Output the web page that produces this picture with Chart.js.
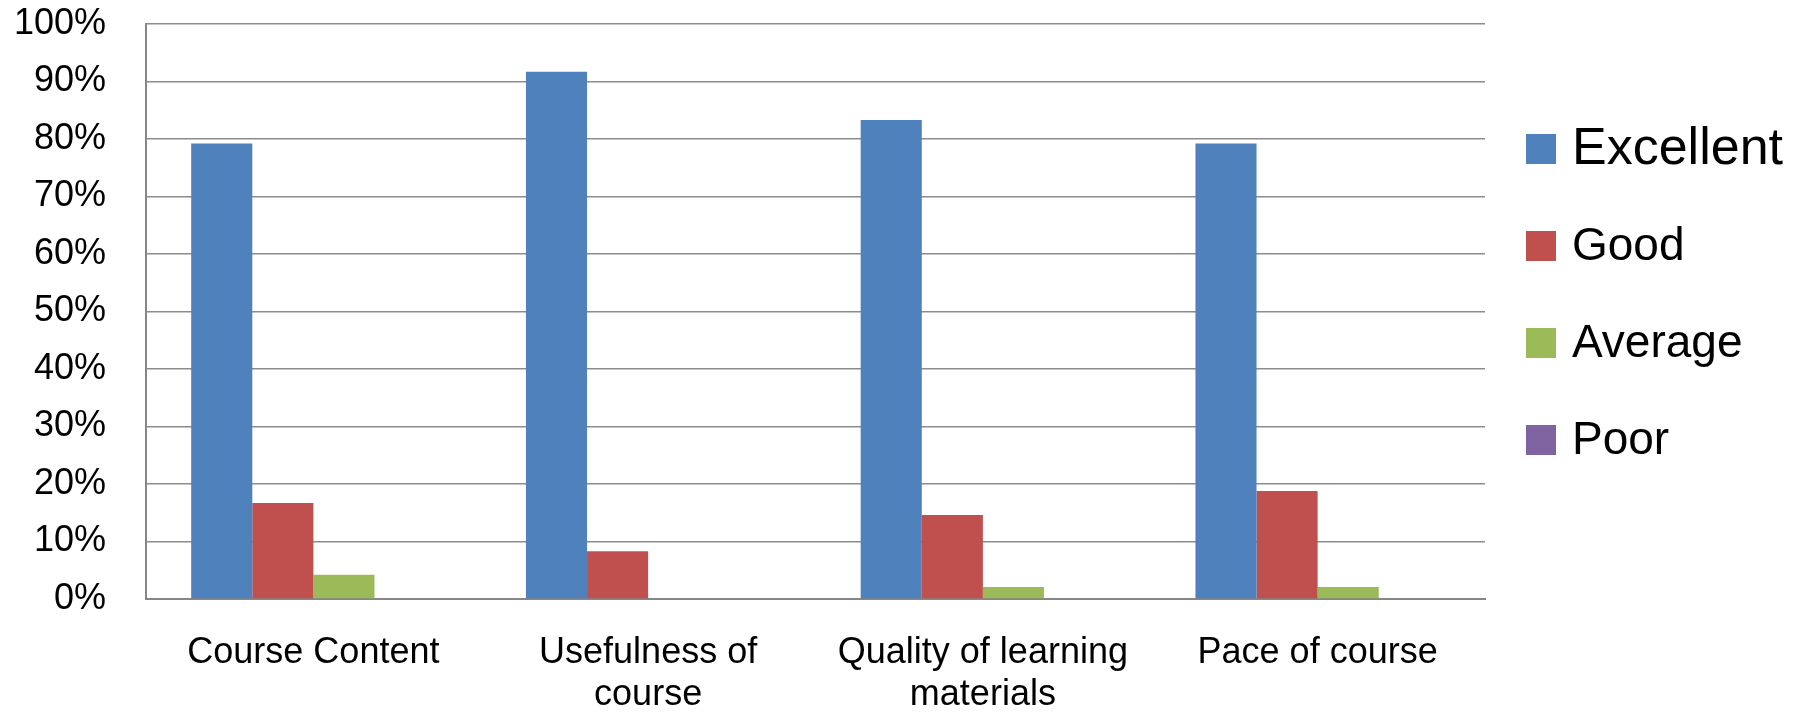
<!DOCTYPE html>
<html>
<head>
<meta charset="utf-8">
<script src="https://cdn.jsdelivr.net/npm/chart.js@4.4.0/dist/chart.umd.min.js"></script>
<style>
  body { margin: 0; background: #fff; }
  #wrap { width: 1805px; height: 713px; }
</style>
</head>
<body>
<div id="wrap"><canvas id="barChart" width="1805" height="713"></canvas></div>
<script>
// categories and series (percent of respondents)
var categories = ['Course Content', ['Usefulness of', 'course'], ['Quality of learning', 'materials'], 'Pace of course'];
var seriesNames = ['Excellent', 'Good', 'Average', 'Poor'];
var excellent = [79.2, 91.7, 83.3, 79.2];
var good = [16.7, 8.3, 14.6, 18.8];
var average = [4.2, 0, 2.1, 2.1];
var poor = [0, 0, 0, 0];
var yTicks = [0, 10, 20, 30, 40, 50, 60, 70, 80, 90, 100];

var colors = ['#4F81BD', '#C0504D', '#9BBB59', '#8064A2'];

// simple legend on the right, drawn on canvas
var sideLegend = {
    id: 'sideLegend',
    afterDraw: function(chart) {
        var ctx = chart.ctx;
        ctx.save();
        ctx.textBaseline = 'middle';
        ctx.textAlign = 'left';
        chart.data.datasets.forEach(function(ds, i) {
            var cy = 149 + i * 97;
            ctx.fillStyle = ds.backgroundColor;
            ctx.fillRect(1526, cy - 15, 30, 30);
            ctx.fillStyle = '#000';
            ctx.font = (i == 0 ? '52px' : '46px') + ' "Liberation Sans", Arial, sans-serif';
            ctx.fillText(ds.label, 1572, cy + 1);
        });
        ctx.restore();
    }
};

var allSeries = [excellent, good, average, poor];

var ctx = document.getElementById('barChart').getContext('2d');
var myChart = new Chart(ctx, {
    type: 'bar',
    data: {
        labels: categories,
        datasets: allSeries.map(function(vals, i) {
            return {
                label: seriesNames[i],
                data: vals,
                backgroundColor: colors[i],
                borderWidth: 0,
                barPercentage: 1,
                categoryPercentage: 0.73
            };
        })
    },
    options: {
        responsive: false,
        animation: false,
        layout: {
            padding: { top: 24, right: 320, bottom: 0, left: 0 }
        },
        plugins: {
            legend: { display: false },
            tooltip: { enabled: false }
        },
        scales: {
            x: {
                grid: { display: false, drawTicks: false },
                border: { display: true, color: '#868686', width: 2 },
                ticks: {
                    color: '#000',
                    padding: 33,
                    maxRotation: 0,
                    autoSkip: false,
                    font: { family: '"Liberation Sans", Arial, sans-serif', size: 36, lineHeight: 1.17 }
                },
                afterFit: function(scale) { scale.height = 114; }
            },
            y: {
                min: 0,
                max: 100,
                afterBuildTicks: function(scale) {
                    scale.ticks = yTicks.map(function(v) { return { value: v }; });
                },
                grid: { color: '#8c8c8c', lineWidth: 1.5, drawTicks: false },
                border: { display: true, color: '#868686', width: 2 },
                ticks: {
                    color: '#000',
                    padding: 40,
                    font: { family: '"Liberation Sans", Arial, sans-serif', size: 36 },
                    callback: function(v) { return v + '%'; }
                },
                afterFit: function(scale) {
                    scale.width = 146;
                    scale.paddingTop = 0;
                    scale.paddingBottom = 0;
                }
            }
        }
    },
    plugins: [sideLegend]
});
</script>
</body>
</html>
